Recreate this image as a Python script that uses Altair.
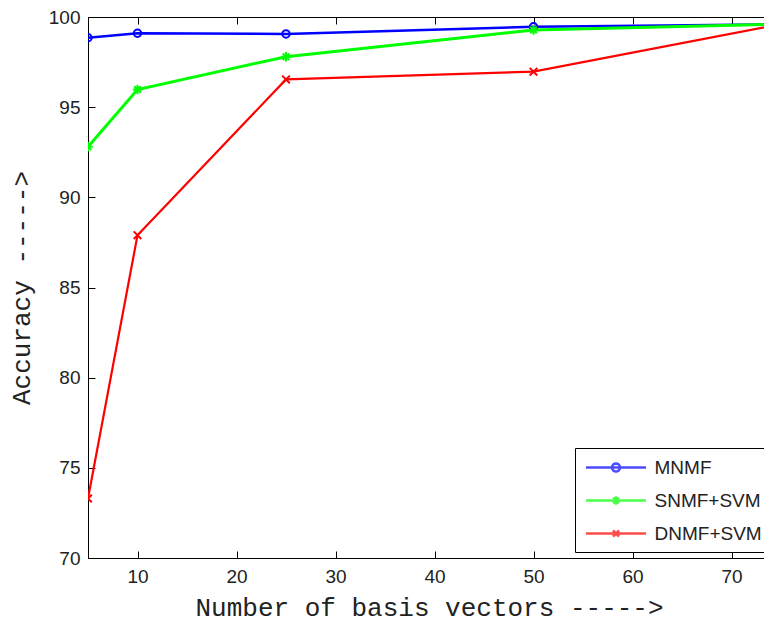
import math
import altair as alt
import pandas as pd

# ---- data ----
x_vals = [5, 10, 25, 50, 75]
mnmf = [98.85, 99.1, 99.06, 99.46, 99.6]
snmf = [92.8, 95.98, 97.8, 99.28, 99.6]
dnmf = [73.3, 87.9, 96.54, 96.97, 99.6]
series_names = ["MNMF", "SNMF+SVM", "DNMF+SVM"]
series_colors = ["#0000ff", "#00ff00", "#ff0000"]
x_ticks = [10, 20, 30, 40, 50, 60, 70]
y_ticks = [70, 75, 80, 85, 90, 95, 100]

rows = []
for name, vals in zip(series_names, [mnmf, snmf, dnmf]):
    for xv, yv in zip(x_vals, vals):
        rows.append({"x": xv, "acc": yv, "series": name})
df = pd.DataFrame(rows)

# ---- marker shapes ----
def circle_path(r, cx=0.0, n=16):
    pts = [(cx + r * math.cos(2 * math.pi * k / n), r * math.sin(2 * math.pi * k / n)) for k in range(n)]
    return "M" + "L".join(f"{a:.3f},{b:.3f}" for a, b in pts) + "Z"

def star_path(r, cx=0.0):
    d = r * 0.7
    return (f"M{cx - r},0L{cx + r},0M{cx},{-r}L{cx},{r}"
            f"M{cx - d},{-d}L{cx + d},{d}M{cx - d},{d}L{cx + d},{-d}")

def x_path(r, cx=0.0):
    return f"M{cx - r},{-r}L{cx + r},{r}M{cx - r},{r}L{cx + r},{-r}"

# legend symbols: unit = 10 px (symbolSize 400)
legend_line = "M-1,0L5,0"
legend_shapes = [
    legend_line + circle_path(0.4, 2.0),
    legend_line + star_path(0.42, 2.0),
    legend_line + x_path(0.3, 2.0),
]
plot_shapes = ["circle", star_path(1), x_path(0.8)]
line_widths = [2.5, 3, 2.2]

xscale = alt.Scale(domain=[5, 75], nice=False, zero=False)
yscale = alt.Scale(domain=[70, 100], nice=False, zero=False)

label_font = "Liberation Sans"
title_font = "Liberation Mono"

base = alt.Chart(df)

layers = []
for i, (name, col, shp, lw) in enumerate(zip(series_names, series_colors, plot_shapes, line_widths)):
    if i == 0:
        xax = alt.Axis(orient="bottom", values=x_ticks, offset=-7, tickSize=7,
                       domain=False, grid=False, labelPadding=9,
                       title="Number of basis vectors ----->",
                       titleFont=title_font, titleFontSize=26,
                       titleFontWeight="normal", titlePadding=8,
                       titleColor="#222", titleX=341)
        yax = alt.Axis(orient="left", values=y_ticks, offset=-7, tickSize=7,
                       domain=False, grid=False, labelPadding=8,
                       title="Accuracy ----->",
                       titleFont=title_font, titleFontSize=26,
                       titleFontWeight="normal", titlePadding=14,
                       titleColor="#222")
    else:
        xax = None
        yax = None
    sub = base.transform_filter(alt.datum.series == name)
    layers.append(
        sub.mark_line(strokeWidth=lw, color=col, clip=True).encode(
            x=alt.X("x:Q", scale=xscale, axis=xax),
            y=alt.Y("acc:Q", scale=yscale, axis=yax),
        )
    )
    size = 55 if shp == "circle" else 90
    layers.append(
        sub.mark_point(filled=False, strokeWidth=2, size=size, shape=shp,
                       color=col, clip=True, opacity=1).encode(
            x=alt.X("x:Q", scale=xscale, axis=None),
            y=alt.Y("acc:Q", scale=yscale, axis=None),
        )
    )

legend_layer = base.transform_filter("datum.x < 0").mark_point(
    filled=False, strokeWidth=2.5
).encode(
    x=alt.X("x:Q", scale=xscale,
            axis=alt.Axis(orient="top", values=x_ticks, offset=-7, tickSize=7,
                          domain=False, grid=False, labels=False, title=None)),
    y=alt.Y("acc:Q", scale=yscale,
            axis=alt.Axis(orient="right", values=y_ticks, offset=-7, tickSize=7,
                          domain=False, grid=False, labels=False, title=None)),
    color=alt.Color("series:N",
                    scale=alt.Scale(domain=series_names, range=series_colors),
                    legend=alt.Legend(title=None, orient="none", legendX=487, legendY=431,
                                      symbolSize=400, symbolStrokeWidth=2.5,
                                      symbolOffset=1.5,
                                      labelFont=label_font, labelFontSize=19,
                                      labelColor="#222", labelOffset=47,
                                      strokeColor="black", fillColor="white",
                                      padding=8, rowPadding=11)),
    shape=alt.Shape("series:N",
                    scale=alt.Scale(domain=series_names, range=legend_shapes),
                    legend=alt.Legend(title=None)),
)
layers.append(legend_layer)

chart = alt.layer(*layers).resolve_axis(
    x="independent", y="independent"
).properties(
    width=693, height=541,
    autosize=alt.AutoSizeParams(type="none"),
    padding={"left": 80, "top": 9, "right": -17, "bottom": 65},
    background="white",
).configure_view(
    stroke="black", strokeWidth=1
).configure_axis(
    labelFont=label_font, labelFontSize=19, labelColor="#222",
    tickColor="black", tickWidth=1,
)

chart.save("out.html", embed_options={"renderer": "svg", "actions": False})
